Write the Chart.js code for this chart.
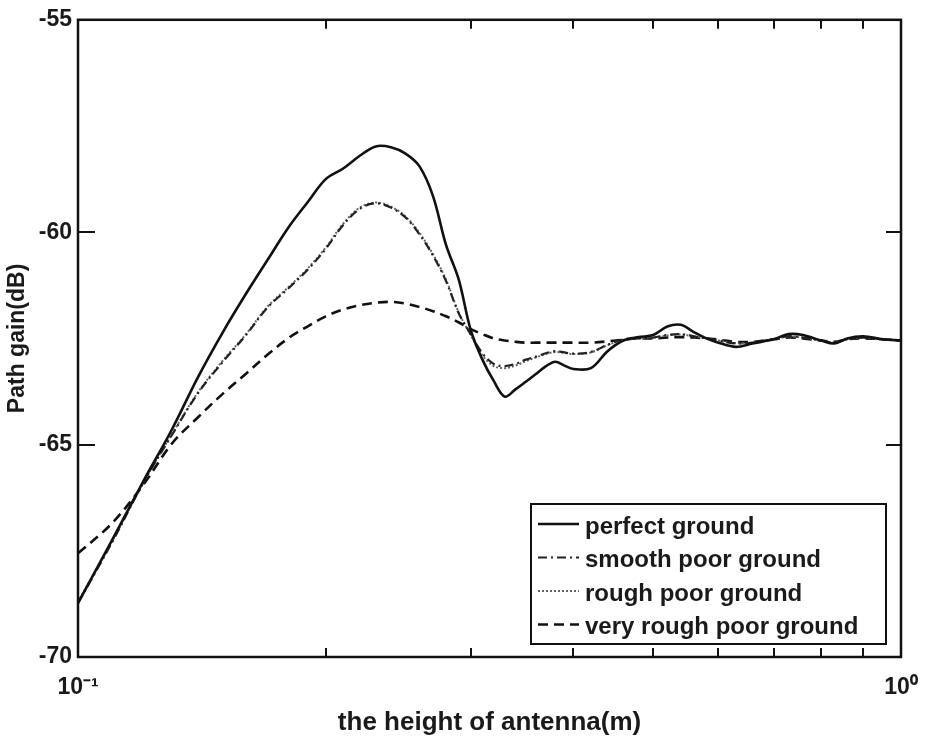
<!DOCTYPE html>
<html>
<head>
<meta charset="utf-8">
<script src="https://cdn.jsdelivr.net/npm/chart.js@4.4.1/dist/chart.umd.min.js"></script>
<style>
  html, body { margin: 0; padding: 0; background: #fff; }
  #wrap { width: 927px; height: 738px; }
</style>
</head>
<body>
<div id="wrap"><canvas id="chart" width="927" height="738"></canvas></div>
<script>
// antenna height (m), shared by all four curves
const heights = [0.10, 0.11, 0.12, 0.13, 0.14, 0.15, 0.16, 0.17, 0.18, 0.19,
                 0.20, 0.21, 0.22, 0.23, 0.24, 0.25, 0.26, 0.27, 0.28, 0.29,
                 0.30, 0.31, 0.32, 0.33, 0.34, 0.35, 0.36, 0.37, 0.38, 0.39,
                 0.40, 0.42, 0.44, 0.46, 0.48, 0.50, 0.52, 0.54, 0.56, 0.58,
                 0.60, 0.63, 0.66, 0.70, 0.73, 0.76, 0.80, 0.83, 0.86, 0.90,
                 0.95, 1.00];

// path gain (dB)
const perfectGround = [-68.73, -67.25, -65.87, -64.65, -63.40, -62.35, -61.45, -60.65, -59.90, -59.30,
                       -58.75, -58.50, -58.20, -57.98, -58.00, -58.15, -58.45, -59.15, -60.30, -61.10,
                       -62.30, -63.00, -63.50, -63.87, -63.70, -63.52, -63.34, -63.16, -63.05, -63.14,
                       -63.22, -63.20, -62.80, -62.55, -62.47, -62.42, -62.22, -62.18, -62.35, -62.50,
                       -62.60, -62.70, -62.62, -62.52, -62.40, -62.42, -62.55, -62.62, -62.50, -62.45,
                       -62.52, -62.55];

const smoothPoor = [-68.73, -67.30, -65.90, -64.78, -63.78, -63.05, -62.42, -61.77, -61.33, -60.89,
                    -60.39, -59.83, -59.45, -59.32, -59.42, -59.65, -60.05, -60.55, -61.15, -61.90,
                    -62.40, -62.85, -63.10, -63.15, -63.10, -63.00, -62.93, -62.85, -62.80, -62.83,
                    -62.86, -62.82, -62.65, -62.52, -62.50, -62.48, -62.42, -62.40, -62.45, -62.50,
                    -62.55, -62.62, -62.60, -62.52, -62.45, -62.48, -62.55, -62.60, -62.52, -62.48,
                    -62.52, -62.55];

const roughPoor = [-68.70, -67.28, -65.90, -64.76, -63.76, -63.02, -62.40, -61.75, -61.30, -60.86,
                   -60.36, -59.80, -59.42, -59.30, -59.40, -59.63, -60.02, -60.52, -61.12, -61.88,
                   -62.42, -62.90, -63.15, -63.20, -63.14, -63.04, -62.95, -62.87, -62.82, -62.84,
                   -62.87, -62.83, -62.66, -62.53, -62.50, -62.48, -62.43, -62.41, -62.45, -62.50,
                   -62.55, -62.61, -62.60, -62.52, -62.46, -62.48, -62.55, -62.59, -62.52, -62.48,
                   -62.52, -62.55];

const veryRoughPoor = [-67.56, -66.85, -65.95, -64.98, -64.35, -63.80, -63.33, -62.88, -62.50, -62.22,
                       -61.98, -61.82, -61.72, -61.66, -61.64, -61.68, -61.76, -61.86, -61.98, -62.12,
                       -62.28, -62.40, -62.50, -62.55, -62.58, -62.60, -62.60, -62.60, -62.60, -62.60,
                       -62.60, -62.60, -62.57, -62.53, -62.50, -62.50, -62.48, -62.47, -62.48, -62.50,
                       -62.53, -62.58, -62.58, -62.52, -62.48, -62.50, -62.55, -62.58, -62.52, -62.50,
                       -62.52, -62.55];

const seriesNames = ["perfect ground", "smooth poor ground", "rough poor ground", "very rough poor ground"];

// axis ticks
const xTickValues = [0.1, 0.2, 0.3, 0.4, 0.5, 0.6, 0.7, 0.8, 0.9, 1.0];
const xTickLabels = {"0.1": "10\u207B\u00B9", "1": "10\u2070"};
const yTickValues = [-70, -65, -60, -55];

const FONT = "'Liberation Sans', Arial, Helvetica, sans-serif";

function points(ys) {
    return heights.map((h, i) => ({x: h, y: ys[i]}));
}

// MATLAB-like box, inward tick marks and in-plot legend
const framePlugin = {
    id: "frame",
    afterDatasetsDraw(chart) {
        const {ctx, chartArea: a, scales} = chart;
        ctx.save();
        ctx.strokeStyle = "#111";
        ctx.lineWidth = 2;
        ctx.setLineDash([]);

        // inward ticks
        ctx.beginPath();
        xTickValues.slice(1, -1).forEach(v => {
            const px = Math.round(scales.x.getPixelForValue(v));
            ctx.moveTo(px, a.bottom); ctx.lineTo(px, a.bottom - 9);
            ctx.moveTo(px, a.top); ctx.lineTo(px, a.top + 9);
        });
        yTickValues.slice(1, -1).forEach(v => {
            const py = Math.round(scales.y.getPixelForValue(v));
            ctx.moveTo(a.left, py); ctx.lineTo(a.left + 17, py);
            ctx.moveTo(a.right, py); ctx.lineTo(a.right - 15, py);
        });
        ctx.stroke();

        // frame
        ctx.lineWidth = 2.5;
        ctx.strokeRect(a.left, a.top, a.right - a.left, a.bottom - a.top);

        // legend box
        const bx = a.right - 370, by = a.bottom - 153, bw = 355, bh = 140;
        ctx.fillStyle = "#fff";
        ctx.fillRect(bx, by, bw, bh);
        ctx.lineWidth = 2;
        ctx.strokeRect(bx, by, bw, bh);
        ctx.font = "bold 24px " + FONT;
        ctx.textBaseline = "middle";
        ctx.textAlign = "left";
        chart.data.datasets.forEach((ds, i) => {
            const cy = by + 21 + i * 33.5;
            ctx.strokeStyle = ds.borderColor;
            ctx.lineWidth = ds.borderWidth;
            ctx.setLineDash(ds.borderDash || []);
            ctx.beginPath();
            ctx.moveTo(bx + 7, cy - 1);
            ctx.lineTo(bx + 48, cy - 1);
            ctx.stroke();
            ctx.setLineDash([]);
            ctx.fillStyle = "#1a1a1a";
            ctx.fillText(ds.label, bx + 54, cy + 2);
        });
        ctx.restore();
    }
};

const lineBase = {pointRadius: 0, fill: false, tension: 0.35, borderCapStyle: "butt"};

new Chart(document.getElementById("chart").getContext("2d"), {
    type: "line",
    data: {
        datasets: [
            {...lineBase, label: seriesNames[0], data: points(perfectGround),
             borderColor: "#111", borderWidth: 2.6, order: 1},
            {...lineBase, label: seriesNames[1], data: points(smoothPoor),
             borderColor: "#222", borderWidth: 2.2, borderDash: [9, 4, 2, 4], order: 2},
            {...lineBase, label: seriesNames[2], data: points(roughPoor),
             borderColor: "#666", borderWidth: 2, borderDash: [2, 2], order: 3},
            {...lineBase, label: seriesNames[3], data: points(veryRoughPoor),
             borderColor: "#111", borderWidth: 2.6, borderDash: [10, 6], order: 4}
        ]
    },
    options: {
        responsive: false,
        animation: false,
        layout: {padding: {top: 17, right: 26, bottom: 0, left: 0}},
        plugins: {
            legend: {display: false},
            tooltip: {enabled: false}
        },
        scales: {
            x: {
                type: "logarithmic",
                min: 0.1,
                max: 1,
                afterBuildTicks: scale => { scale.ticks = xTickValues.map(v => ({value: v})); },
                afterFit: scale => {
                    scale.height = 81;
                    scale.paddingLeft = 0;
                    scale.paddingRight = 0;
                },
                grid: {display: false, drawTicks: false},
                border: {display: false},
                ticks: {
                    autoSkip: false,
                    maxRotation: 0,
                    padding: 17,
                    color: "#1a1a1a",
                    font: {family: FONT, size: 23, weight: "bold"},
                    callback: v => xTickLabels[String(v)] || ""
                },
                title: {
                    display: true,
                    text: "the height of antenna(m)",
                    color: "#1a1a1a",
                    font: {family: FONT, size: 26, weight: "bold"},
                    padding: {top: 0, bottom: 0}
                }
            },
            y: {
                min: -70,
                max: -55,
                afterBuildTicks: scale => { scale.ticks = yTickValues.map(v => ({value: v})); },
                afterFit: scale => { scale.width = 78; },
                grid: {display: false, drawTicks: false},
                border: {display: false},
                ticks: {
                    padding: 6,
                    color: "#1a1a1a",
                    font: {family: FONT, size: 23, weight: "bold"}
                },
                title: {
                    display: true,
                    text: "Path gain(dB)",
                    color: "#1a1a1a",
                    font: {family: FONT, size: 23, weight: "bold"},
                    padding: {top: 4, bottom: 0}
                }
            }
        }
    },
    plugins: [framePlugin]
});
</script>
</body>
</html>
